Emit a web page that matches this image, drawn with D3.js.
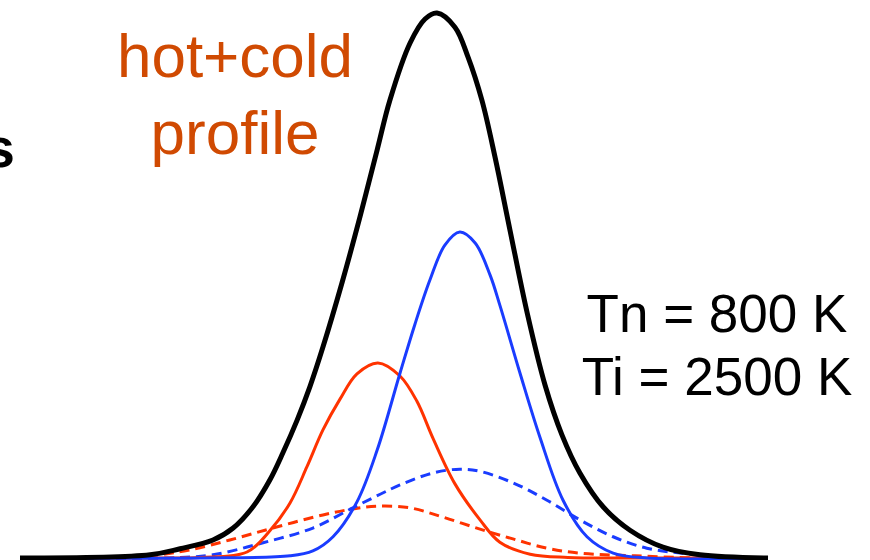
<!DOCTYPE html>
<html>
<head>
  <script src="https://d3js.org/d3.v7.min.js"></script>
  <style>
    body { margin: 0; background: #fff; }
    text { font-family: "Liberation Sans", Arial, Helvetica, sans-serif; }
  </style>
</head>
<body>
  <div id="myDiv"></div>
  <script>
    // line profile values (x: offset, y: % of total peak)
    const totalX = [-100, -65.2, -57.2, -48.4, -43, -37.7, -33.2, -29.7, -25.9, -22.5, -19, -13.9, -9.1, -4.5, -1.1, 4.3, 8.3, 11.5, 16.3, 19.8, 23.5, 27, 31, 35.6, 40.4, 44.9, 49.7, 55.9, 63.1, 71.9, 81.8, 100];
    const totalY = [0, 0.6, 1.7, 3.3, 5.5, 9.4, 14.3, 19.3, 25.3, 31.4, 38.7, 50.5, 62.6, 74.9, 84, 94.5, 98.9, 100, 97.4, 91.9, 84, 73.6, 60.2, 45, 31.7, 22.6, 15.6, 9.4, 5.1, 2, 0.6, 0];

    // cold neutrals (red) and cold ions (blue)
    const coldNX = [-100, -65.2, -51.9, -39.3, -33.2, -27.8, -23.3, -19, -14.4, -9.9, -4.3, 1.6, 6.1, 10.4, 16.3, 23, 28.3, 36.4, 46.5, 64.4, 100];
    const coldNY = [0, 0, 0.1, 1.1, 5, 10.1, 16.7, 23.5, 29.2, 33.8, 35.8, 33.4, 28.8, 22, 13.6, 7, 2.9, 0.7, 0.1, 0, 0];

    const coldIX = [-100, -51.9, -27.8, -21.7, -16.3, -9.9, -4.5, 1.6, 5.6, 9.6, 13.6, 17.6, 21.7, 25.7, 28.3, 33.7, 39, 45.2, 51.6, 58.6, 67.6, 100];
    const coldIY = [0, 0, 0.4, 1.3, 3.9, 10.3, 19.8, 33.9, 42.9, 51, 57.4, 59.8, 57.8, 51.9, 46.4, 33.9, 22.2, 10.6, 3.9, 0.9, 0, 0];

    // hot neutrals (red dashed) and hot ions (blue dashed)
    const hotNX = [-100, -74.1, -62.6, -54.5, -43.9, -32.4, -19, -11, -4.5, 4.3, 13.1, 23, 31.8, 40.9, 49.7, 64.4, 81.8, 100];
    const hotNY = [0, 0, 0.6, 1.5, 3.3, 5.5, 7.9, 9, 9.5, 9.2, 7.5, 5.3, 3.5, 1.8, 0.9, 0.4, 0, 0];

    const hotIX = [-100, -60.7, -48.4, -35, -21.7, -11, -3.7, 1.6, 10.4, 17.6, 23, 31.8, 40.9, 49.7, 58.6, 67.6, 76.5, 86.6, 100];
    const hotIY = [0, 0, 0.6, 2.8, 5.5, 9.2, 11.7, 13.4, 15.6, 16.3, 15.9, 13.8, 10.6, 7, 3.9, 1.8, 0.9, 0.2, 0];

    const labelTitle = ["hot+cold", "profile"];
    const labelTemps = ["Tn = 800 K", "Ti = 2500 K"];

    const width = 870, height = 560;

    const svg = d3.select("#myDiv")
      .append("svg")
        .attr("width", width)
        .attr("height", height);

    const x = d3.scaleLinear().domain([-100, 100]).range([20, 768]);
    const y = d3.scaleLinear().domain([0, 100]).range([558, 13]);

    const line = d3.line()
      .x(d => x(d[0]))
      .y(d => y(d[1]))
      .curve(d3.curveCatmullRom.alpha(0.5));

    const series = [
      { xs: hotNX, ys: hotNY, color: "#ff3300", w: 3, dash: "10,6" },
      { xs: hotIX, ys: hotIY, color: "#1a3cff", w: 3, dash: "10,6" },
      { xs: coldNX, ys: coldNY, color: "#ff3300", w: 3, dash: null },
      { xs: coldIX, ys: coldIY, color: "#1a3cff", w: 3, dash: null },
      { xs: totalX, ys: totalY, color: "#000", w: 5, dash: null }
    ];

    svg.selectAll("path.profile")
      .data(series)
      .join("path")
        .attr("class", "profile")
        .attr("d", s => line(d3.zip(s.xs, s.ys)))
        .attr("fill", "none")
        .attr("stroke", s => s.color)
        .attr("stroke-width", s => s.w)
        .attr("stroke-dasharray", s => s.dash)
        .attr("stroke-linejoin", "round");

    // orange title
    svg.append("g")
      .selectAll("text")
      .data(labelTitle)
      .join("text")
        .attr("x", 235)
        .attr("y", (d, i) => 77 + i * 77)
        .attr("text-anchor", "middle")
        .style("font-size", "62px")
        .style("fill", "#d04a02")
        .text(d => d);

    // temperatures
    svg.append("g")
      .selectAll("text")
      .data(labelTemps)
      .join("text")
        .attr("x", 717)
        .attr("y", (d, i) => 332 + i * 63)
        .attr("text-anchor", "middle")
        .style("font-size", "53px")
        .style("fill", "#000")
        .text(d => d);

    // cut-off word at the left edge
    svg.append("text")
      .attr("x", 15)
      .attr("y", 167)
      .attr("text-anchor", "end")
      .style("font-size", "56px")
      .style("font-weight", "bold")
      .style("fill", "#000")
      .text("s");
  </script>
</body>
</html>
